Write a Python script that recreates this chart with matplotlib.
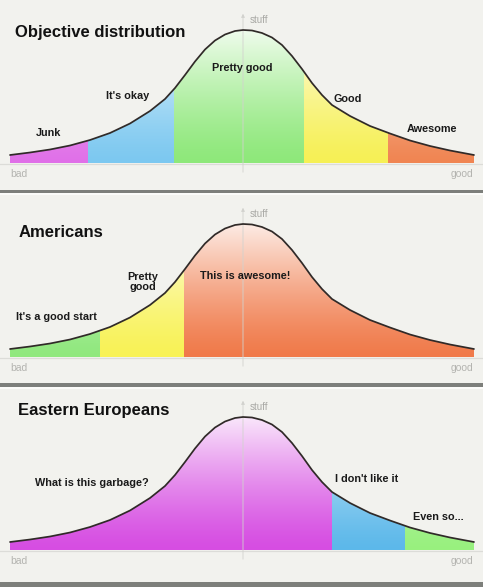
import numpy as np
import matplotlib.pyplot as plt
from matplotlib.patches import Rectangle
from matplotlib.colors import to_rgb

plt.rcParams['font.family'] = ['Liberation Sans', 'DejaVu Sans']

# bell curve: x position and height above the baseline
curve_x = [10, 30, 50, 70, 90, 110, 130, 150, 165, 175, 185, 195, 205, 215, 225, 235, 243,
           252, 262, 272, 282, 292, 302, 312, 322, 332, 350, 370, 390, 410, 430, 450, 474]
curve_h = [8, 10.5, 13.5, 17.5, 23, 30, 39.5, 52, 64, 75, 88, 101.5, 113.5, 122.5, 128.5, 132, 133,
           132.5, 130, 125.5, 118, 107, 94, 80, 68, 58, 47, 37, 29.5, 22.5, 17, 12.5, 8]

titles = ['Objective distribution', 'Americans', 'Eastern Europeans']

# band edges along x and the colour of each band
edges_1 = [10, 88, 174, 304, 388, 474]
colors_1 = ['#e070e8', '#7cc8f0', '#8ee87a', '#f6f055', '#f08552']
labels_1 = ['Junk', "It's okay", 'Pretty good', 'Good', 'Awesome']

edges_2 = [10, 100, 184, 474]
colors_2 = ['#90e87e', '#f8f255', '#f07a4a']
labels_2 = ["It's a good start", 'Pretty\ngood', 'This is awesome!']

edges_3 = [10, 332, 405, 474]
colors_3 = ['#d64de2', '#5cb8ea', '#98f07e']
labels_3 = ['What is this garbage?', "I don't like it", 'Even so...']

# layout (pixels): panel top, bottom, baseline, and where the labels sit
H = 587
panel_px = [(0, 190, 163), (193, 383, 357), (387, 582, 550)]
label_pos = [
    [(49, 30), (128, 67), (242, 95), (348, 64), (432, 34)],
    [(56, 40), (143, 75), (245, 81)],
    [(92, 67), (367, 71), (438, 33)],
]
title_pos = [(15, 131), (19, 124), (18, 139)]
bg = '#f2f2ee'

fig = plt.figure(figsize=(4.83, 5.87), dpi=100, facecolor=bg)

panels = [(edges_1, colors_1, labels_1), (edges_2, colors_2, labels_2), (edges_3, colors_3, labels_3)]
peak = max(curve_h)

for i, (edges, colors, labels) in enumerate(panels):
    top, bottom, base = panel_px[i]
    ax = fig.add_axes([0, 1 - bottom / H, 1, (bottom - top) / H])
    ax.set_facecolor(bg)
    ax.axis('off')

    # area under the curve, used to clip the gradients
    area = ax.fill(curve_x + [curve_x[-1], curve_x[0]], curve_h + [0, 0],
                   facecolor='none', edgecolor='none')[0]

    # each band fades from its colour at the bottom to almost white at the top
    hh = np.linspace(0, 1, 256)[:, None, None]
    t = 0.88 * hh ** 1.3
    for c, x0, x1 in zip(colors, edges[:-1], edges[1:]):
        img = np.array(to_rgb(c))[None, None, :] * (1 - t) + t
        im = ax.imshow(img, extent=[x0, x1, 0, peak + 2], origin='lower',
                       aspect='auto', interpolation='bilinear', zorder=1)
        im.set_clip_path(area)

    ax.plot(curve_x, curve_h, color='#302a28', lw=1.25, zorder=3, solid_capstyle='round')

    # axes: baseline and the "stuff" arrow in the middle
    ax.axhline(-0.8, color='#dcdcd8', lw=0.9, zorder=0)
    ax.annotate('', xy=(243, 152), xytext=(243, -12),
                arrowprops=dict(arrowstyle='-|>', color='#d2d2ce', lw=0.6, mutation_scale=5),
                zorder=2)
    ax.text(250, 143, 'stuff', color='#a8a8a4', fontsize=7, va='center')
    ax.text(10, -11, 'bad', color='#b4b4b0', fontsize=7.5, va='center')
    ax.text(473, -11, 'good', color='#b4b4b0', fontsize=7.5, va='center', ha='right')

    ax.text(title_pos[i][0], title_pos[i][1], titles[i], fontsize=12, fontweight='bold',
            va='center', color='#111111')
    for lab, (lx, ly) in zip(labels, label_pos[i]):
        ax.text(lx, ly, lab, fontsize=7.8, fontweight='bold', ha='center', va='center',
                color='#1a1a1a', linespacing=1.0, zorder=4)

    ax.set_xlim(0, 483)
    ax.set_ylim(-(bottom - base), base - top)

# dark separators between panels
for y0, y1 in [(190, 193), (383, 387), (582, 587)]:
    fig.add_artist(Rectangle((0, 1 - y1 / H), 1, (y1 - y0) / H, transform=fig.transFigure,
                             facecolor='#7d7f7b', edgecolor='none'))
    fig.add_artist(Rectangle((0, 1 - (y1 + 1.5) / H), 1, 1.5 / H, transform=fig.transFigure,
                             facecolor='#fbfbf9', edgecolor='none'))

plt.savefig('out.png', dpi=100, facecolor=bg)
